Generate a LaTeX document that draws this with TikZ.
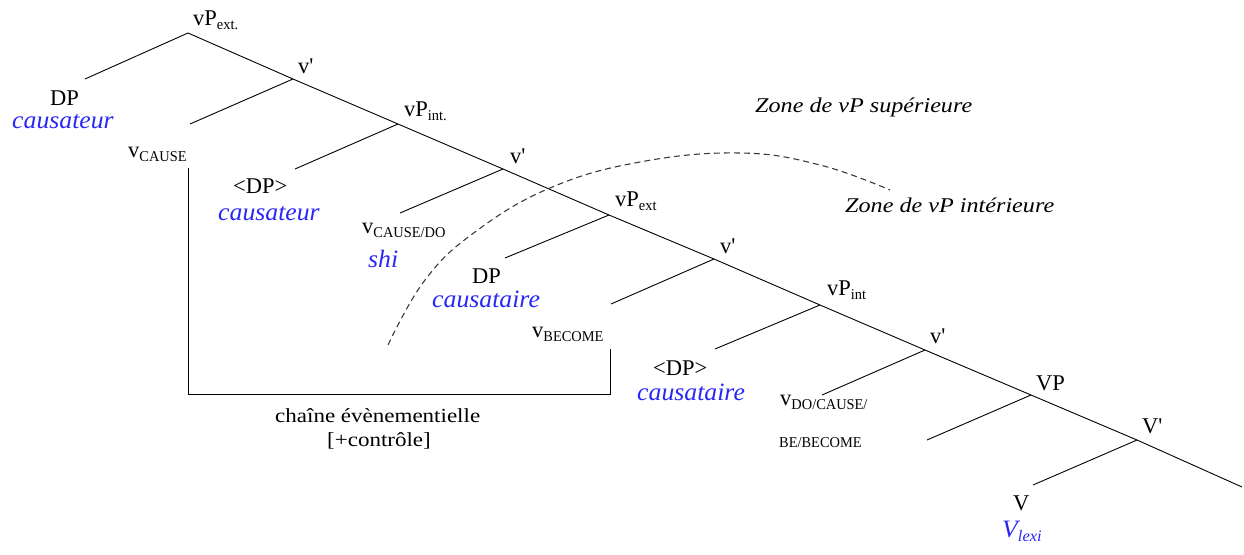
\documentclass[tikz,border=0pt]{standalone}
\usepackage{fontspec}
\setmainfont{Liberation Serif}
\newfontfamily\widefont[FakeStretch=1.15]{Liberation Serif}
\newfontfamily\glossfont[FakeStretch=1.03]{Liberation Serif}
\newfontfamily\subfont[FakeStretch=0.96]{Liberation Serif}
\definecolor{blu}{RGB}{40,40,245}
\definecolor{dashgray}{RGB}{60,60,60}
\newcommand\sbs[1]{\raisebox{-0.4ex}{\subfont\fontsize{15}{16}\selectfont #1}}
\newcommand\pr{\textquotesingle}
\tikzset{
  lab/.style={anchor=base west, inner sep=0pt, text depth=0pt, font=\fontsize{22.5}{25}\selectfont},
  gloss/.style={anchor=base west, inner sep=0pt, text height=17pt, text=blu, font=\glossfont\fontsize{25}{27}\selectfont\itshape},
  zone/.style={anchor=base west, inner sep=0pt, font=\widefont\fontsize{21}{24}\selectfont\itshape},
  note/.style={anchor=base west, inner sep=0pt, font=\widefont\fontsize{20}{24}\selectfont},
  br/.style={line width=0.9pt},
}
\begin{document}
\begin{tikzpicture}[x=1pt,y=-1pt]
\useasboundingbox (0,0) rectangle (1244,554);
% junctions
\coordinate (j1) at (188,33);
\coordinate (j2) at (293,79);
\coordinate (j3) at (398,124);
\coordinate (j4) at (503,169);
\coordinate (j5) at (609,215);
\coordinate (j6) at (714,259);
\coordinate (j7) at (820,305);
\coordinate (j8) at (925,350);
\coordinate (j9) at (1031,395);
\coordinate (j10) at (1137,440);
\coordinate (jend) at (1242,487);
% branch ends
\coordinate (e1) at (85,79);
\coordinate (e2) at (190,124);
\coordinate (e3) at (295,169);
\coordinate (e4) at (400,213);
\coordinate (e5) at (505,258);
\coordinate (e6) at (611,304);
\coordinate (e7) at (715,349);
\coordinate (e8) at (822,395);
\coordinate (e9) at (927,440);
\coordinate (e10) at (1033,485);
% spine
\draw[br] (j1) -- (j2) -- (j3) -- (j4) -- (j5) -- (j6) -- (j7) -- (j8) -- (j9) -- (j10) -- (jend);
\foreach \i in {1,...,10} \draw[br] (j\i) -- (e\i);
% labels
\node[lab] (vpext1) at (193,25) {vP\sbs{ext.}};
\node[lab] (vb1) at (298,73) {v\pr};
\node[lab] (dp1) at (50,105) {DP};
\node[gloss] (g1) at (12,128) {causateur};
\node[lab] (vcause) at (128,157) {v\sbs{CAUSE}};
\node[lab] (vpint1) at (404,116) {vP\sbs{int.}};
\node[lab] (dp2) at (233,193) {<DP>};
\node[gloss] (g2) at (218,220) {causateur};
\node[lab] (vb2) at (510,163) {v\pr};
\node[lab] (vcdo) at (362,233) {v\sbs{CAUSE/DO}};
\node[gloss] (g3) at (368,267) {shi};
\node[lab] (vpext2) at (615,206) {vP\sbs{ext}};
\node[lab] (vb3) at (720,253) {v\pr};
\node[lab] (dp3) at (472,283) {DP};
\node[gloss] (g4) at (432,307) {causataire};
\node[lab] (vbec) at (532,337) {v\sbs{BECOME}};
\node[lab] (vpint2) at (827,295) {vP\sbs{int}};
\node[lab] (vb4) at (930,343) {v\pr};
\node[lab] (dp4) at (653,375) {<DP>};
\node[gloss] (g5) at (637,400) {causataire};
\node[lab] (vdo) at (780,405) {v\sbs{DO/CAUSE/}};
\node[anchor=base west, inner sep=0pt, font=\subfont\fontsize{15}{16}\selectfont] (vdo2) at (779,447) {BE/BECOME};
\node[lab] (VP) at (1036,390) {VP};
\node[lab] (Vb) at (1142,433) {V\pr};
\node[lab] (V) at (1013,510) {V};
\node[gloss] (g6) at (1002,537) {V\raisebox{-0.4ex}{\fontsize{16}{16}\selectfont lexi}};
% zones
\node[zone] (z1) at (755,112) {Zone de vP supérieure};
\node[zone] (z2) at (845,212) {Zone de vP intérieure};
\draw[dashgray, line width=1.1pt, dash pattern=on 6pt off 4pt] plot[smooth, tension=0.7] coordinates {(388,345) (425,280) (475,232) (550,188) (640,162) (740,153) (820,165) (890,190)};
% bracket
\coordinate (bk1) at (188,168);
\coordinate (bk2) at (188,394);
\coordinate (bk3) at (610,394);
\coordinate (bk4) at (610,349);
\draw[br] (bk1) -- (bk2) -- (bk3) -- (bk4);
\node[note] (ch1) at (275,422) {chaîne évènementielle};
\node[note] (ch2) at (327,446) {[+contrôle]};
\end{tikzpicture}
\end{document}
